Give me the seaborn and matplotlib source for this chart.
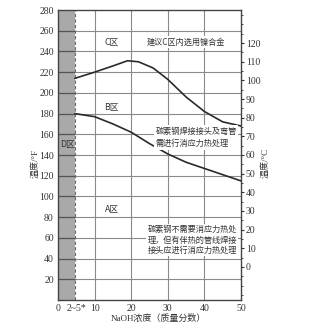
import matplotlib
matplotlib.use("Agg")
import matplotlib.pyplot as plt
import seaborn as sns
import pandas as pd
import numpy as np

# ---- data ----
upper_x = [4.6, 10, 15, 19, 22, 26, 30, 35, 40, 45, 50]
upper_f = [214, 220, 226, 231, 230, 224, 213, 196, 182, 172, 168]
lower_x = [4.6, 10, 15, 20, 25, 30, 35, 40, 45, 50]
lower_f = [180, 177, 170, 162, 151, 141, 133, 127, 121, 115]
d_limit = 4.6
x_ticks = [0, 5, 10, 20, 30, 40, 50]
x_tick_labels = ["0", "2~5*", "10", "20", "30", "40", "50"]
yf_ticks = list(range(20, 281, 20))
yc_ticks = list(range(0, 121, 10))

sns.set_style("white")
FAM = ["Liberation Serif", "Noto Sans CJK SC", "DejaVu Sans"]
CJK = ["Noto Sans CJK SC", "DejaVu Sans"]
plt.rcParams["font.family"] = FAM

fig = plt.figure(figsize=(3.13, 3.31), dpi=100)
ax = fig.add_axes([58/313, 1-300/331, (241-58)/313, 290/331])

ax.set_xlim(0, 50)
ax.set_ylim(0, 280)

# D region shading
ax.axvspan(0, d_limit, color="#a9a9a9", zorder=0, lw=0)
ax.axvline(d_limit, color="#6a6a6a", ls=(0, (3, 2)), lw=0.8, zorder=1)

# grid
for y in yf_ticks[:-1]:
    ax.axhline(y, color="#8a8a8a", lw=0.8, zorder=1)
ax.hlines(yf_ticks[:-1], 0, d_limit, color="#555555", lw=0.9, zorder=1.5)
for x in [10, 20, 30, 40]:
    ax.axvline(x, color="#8a8a8a", lw=0.8, zorder=1)

df_u = pd.DataFrame({"x": upper_x, "y": upper_f})
df_l = pd.DataFrame({"x": lower_x, "y": lower_f})
sns.lineplot(data=df_u, x="x", y="y", ax=ax, color="#2a2a2a", lw=1.2, zorder=3)
sns.lineplot(data=df_l, x="x", y="y", ax=ax, color="#2a2a2a", lw=1.2, zorder=3)

ax.set_xlabel("")
ax.set_ylabel("")
ax.set_xticks(x_ticks)
ax.set_xticklabels(x_tick_labels)
ax.set_yticks(yf_ticks)
ax.tick_params(axis="both", length=0, labelsize=7, colors="#333333", pad=3)
for s in ax.spines.values():
    s.set_color("#444444")
    s.set_linewidth(1.0)

# right axis in Celsius
ax2 = ax.twinx()
ax2.set_ylim((0-32)*5/9, (280-32)*5/9)
ax2.set_yticks(yc_ticks)
ax2.set_yticks([v + 5 for v in yc_ticks[:-1]] + [-5, -10, -15, 125, 130, 135], minor=True)
ax2.tick_params(axis="y", which="major", length=2.5, width=0.8, labelsize=7, colors="#333333", pad=1)
ax2.tick_params(axis="y", which="minor", length=1.5, width=0.6, colors="#333333")
for s in ax2.spines.values():
    s.set_visible(False)

tk = dict(fontsize=6.3, family=CJK, color="#333333")
sm = dict(fontsize=5.9, family=CJK, color="#333333")
ax.text(14.7, 249, "C区", ha="center", va="center", zorder=5, **tk)
ax.text(34.8, 249, "建议C区内选用镍合金", ha="center", va="center", zorder=5,
        bbox=dict(facecolor="white", edgecolor="none", pad=1), **sm)
ax.text(14.7, 186, "B区", ha="center", va="center", zorder=5, **tk)
ax.text(2.5, 150, "D区", ha="center", va="center", zorder=5, **tk)
ax.text(14.7, 87, "A区", ha="center", va="center", zorder=5, **tk)
ax.text(26.6, 157, "碳素钢焊接接头及弯管\n需进行消应力热处理", ha="left", va="center",
        linespacing=1.5, zorder=5, bbox=dict(facecolor="white", edgecolor="none", pad=1), **sm)
ax.text(24.4, 58, "碳素钢不需要消应力热处\n理，但有伴热的管线焊接\n接头应进行消应力热处理",
        ha="left", va="center", linespacing=1.15, zorder=5,
        bbox=dict(facecolor="white", edgecolor="none", pad=1), **sm)

lab = dict(fontsize=6.5, family=FAM, color="#333333")
fig.text(35/313, 1-163/331, "温度/°F", rotation=90, ha="center", va="center", **lab)
fig.text(265/313, 1-163/331, "温度/°C", rotation=90, ha="center", va="center", **lab)
fig.text(158/313, 1-318/331, "NaOH浓度（质量分数）", ha="center", va="center", **lab)

fig.savefig("out.png", dpi=100)
